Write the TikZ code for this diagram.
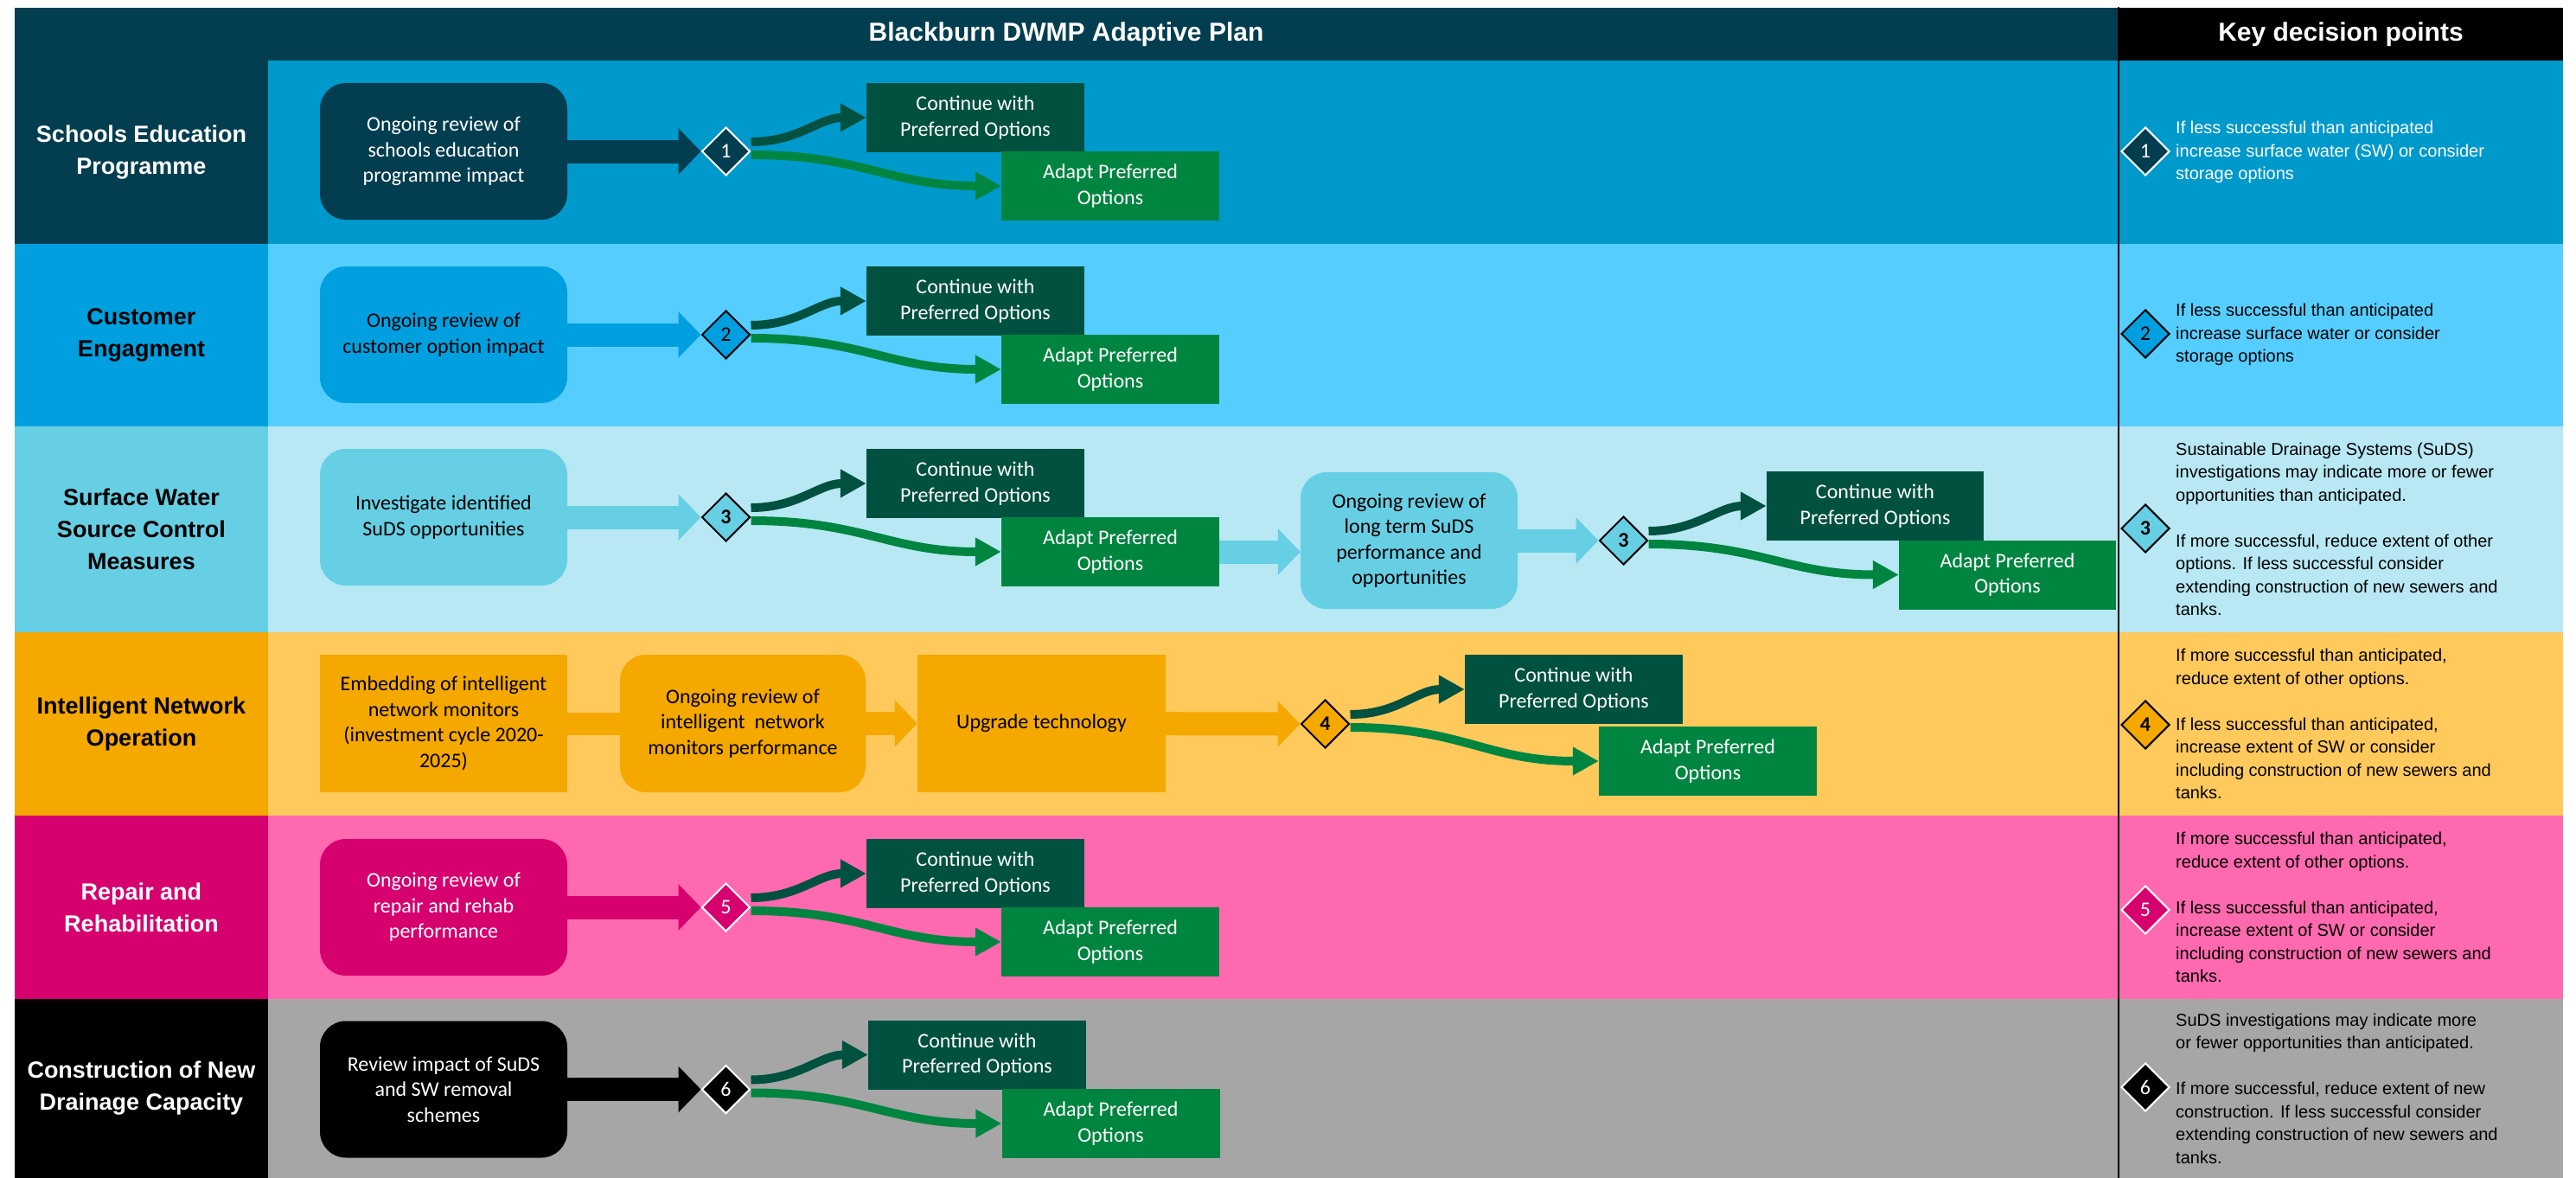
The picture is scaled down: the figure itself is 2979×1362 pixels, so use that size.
\documentclass[tikz,border=0pt]{standalone}
\usepackage{fontspec}
\setmainfont{Liberation Sans}
\newfontfamily\calfont{Carlito}
\usetikzlibrary{shapes.geometric,arrows.meta}
\definecolor{hdrteal}{HTML}{023E50}
\definecolor{bgone}{HTML}{0099CC}
\definecolor{bluetwo}{HTML}{00A0E0}
\definecolor{bgtwo}{HTML}{55CEFF}
\definecolor{bluethree}{HTML}{66CFE3}
\definecolor{bgthree}{HTML}{B7E8F3}
\definecolor{ambr}{HTML}{F5A800}
\definecolor{bgfour}{HTML}{FFC95C}
\definecolor{magen}{HTML}{D6006E}
\definecolor{bgfive}{HTML}{FF69AF}
\definecolor{bgsix}{HTML}{A6A6A6}
\definecolor{contgreen}{HTML}{00513F}
\definecolor{adaptgreen}{HTML}{008540}
\begin{document}
\begin{tikzpicture}[x=1pt,y=-1pt,
  hdrtxt/.style={text=white,font=\fontsize{30}{34}\selectfont\bfseries},
  lab/.style={minimum width=293pt,inner sep=0pt,align=center,font=\fontsize{27}{37}\selectfont\bfseries},
  revbox/.style={rounded corners=30pt,minimum width=286pt,minimum height=158pt,inner sep=2pt,align=center,font=\calfont\fontsize{24}{29.5}\selectfont},
  sqbox/.style={fill=ambr,minimum height=159pt,inner sep=2pt,align=center,font=\calfont\fontsize{24}{29.5}\selectfont},
  contbox/.style={fill=contgreen,text=white,minimum width=252pt,minimum height=80pt,inner sep=0pt,align=center,font=\calfont\fontsize{24}{29.5}\selectfont},
  adaptbox/.style={contbox,fill=adaptgreen},
  dec/.style={diamond,minimum width=56pt,minimum height=56pt,inner sep=0pt,line width=2pt,font=\calfont\fontsize{24}{24}\selectfont},
  blk/.style={line width=27pt,-{Triangle[width=52pt,length=26pt]}},
  upflow/.style={line width=10pt,contgreen,-{Triangle[width=31pt,length=30pt]}},
  downflow/.style={line width=10pt,adaptgreen,-{Triangle[width=31pt,length=30pt]}},
  keytxt/.style={anchor=west,align=left,inner sep=0pt,font=\fontsize{20}{26.5}\selectfont}]
\useasboundingbox (0,0) rectangle (2979,1362);

% header
\fill[hdrteal] (17,9) rectangle (2450,70);
\fill[black] (2450,9) rectangle (2964,70);
\node[hdrtxt] (title) at (1233,40) {Blackburn DWMP Adaptive Plan};
\node[hdrtxt] (keytitle) at (2707,40) {Key decision points};

% row backgrounds
\fill[bgone] (310,70) rectangle (2964,282);
\fill[bgtwo] (310,282) rectangle (2964,493);
\fill[bgthree] (310,493) rectangle (2964,731);
\fill[bgfour] (310,731) rectangle (2964,943);
\fill[bgfive] (310,943) rectangle (2964,1155);
\fill[bgsix] (310,1155) rectangle (2964,1362);

% row labels
\node[lab,fill=hdrteal,text=white,minimum height=212pt] (lab1) at (163.5,176) {Schools Education\\Programme};
\node[lab,fill=bluetwo,minimum height=211pt] (lab2) at (163.5,387.5) {Customer\\Engagment};
\node[lab,fill=bluethree,minimum height=238pt] (lab3) at (163.5,612) {Surface Water\\Source Control\\Measures};
\node[lab,fill=ambr,minimum height=212pt] (lab4) at (163.5,837) {Intelligent Network\\Operation};
\node[lab,fill=magen,text=white,minimum height=212pt] (lab5) at (163.5,1049) {Repair and\\Rehabilitation};
\node[lab,fill=black,text=white,minimum height=207pt] (lab6) at (163.5,1258.5) {Construction of New\\Drainage Capacity};

% key column line
\draw[line width=2.5pt] (2450,8) -- (2450,1362);

% Schools education
\node[revbox,fill=hdrteal,text=white] (rev1) at (513,175) {Ongoing review of\\schools education\\programme impact};
\node[dec,fill=hdrteal,draw=white,text=white] (dia1) at (839.5,175) {1};
\node[contbox] (cont1) at (1128,136) {Continue with\\Preferred Options};
\node[adaptbox] (adapt1) at (1284,215) {Adapt Preferred\\Options};
\draw[blk,hdrteal] (rev1) -- (dia1);
\draw[upflow] ([yshift=11pt]dia1.east) .. controls +(55,0) and +(-55,0) .. (cont1.west);
\draw[downflow] ([yshift=-4pt]dia1.east) .. controls +(130,0) and +(-130,0) .. (adapt1.west);

% Customer engagement
\node[revbox,fill=bluetwo] (rev2) at (513,387) {Ongoing review of\\customer option impact};
\node[dec,fill=bluetwo,draw=black] (dia2) at (839.5,387) {2};
\node[contbox] (cont2) at (1128,348) {Continue with\\Preferred Options};
\node[adaptbox] (adapt2) at (1284,427) {Adapt Preferred\\Options};
\draw[blk,bluetwo] (rev2) -- (dia2);
\draw[upflow] ([yshift=11pt]dia2.east) .. controls +(55,0) and +(-55,0) .. (cont2.west);
\draw[downflow] ([yshift=-4pt]dia2.east) .. controls +(130,0) and +(-130,0) .. (adapt2.west);

% Surface water, first step
\node[revbox,fill=bluethree] (rev3) at (513,598) {Investigate identified\\SuDS opportunities};
\node[dec,fill=bluethree,draw=black,font=\calfont\fontsize{24}{24}\selectfont\bfseries] (dia3a) at (839.5,598) {3};
\node[contbox] (cont3a) at (1128,559) {Continue with\\Preferred Options};
\node[adaptbox] (adapt3a) at (1284,638) {Adapt Preferred\\Options};
\draw[blk,bluethree] (rev3) -- (dia3a);
\draw[upflow] ([yshift=11pt]dia3a.east) .. controls +(55,0) and +(-55,0) .. (cont3a.west);
\draw[downflow] ([yshift=-4pt]dia3a.east) .. controls +(130,0) and +(-130,0) .. (adapt3a.west);
% Surface water, long term review
\node[revbox,fill=bluethree,minimum width=251pt] (rev3b) at (1629.5,625) {Ongoing review of\\long term SuDS\\performance and\\opportunities};
\node[dec,fill=bluethree,draw=black,font=\calfont\fontsize{24}{24}\selectfont\bfseries] (dia3b) at (1877.5,625) {3};
\node[contbox,minimum width=251pt] (cont3b) at (2168.5,585) {Continue with\\Preferred Options};
\node[adaptbox,minimum width=251pt] (adapt3b) at (2321.5,664.5) {Adapt Preferred\\Options};
\draw[blk,bluethree] (adapt3a.east) -- (adapt3a.east -| rev3b.west);
\draw[blk,bluethree] (rev3b) -- (dia3b);
\draw[upflow] ([yshift=11pt]dia3b.east) .. controls +(55,0) and +(-55,0) .. (cont3b.west);
\draw[downflow] ([yshift=-4pt]dia3b.east) .. controls +(130,0) and +(-130,0) .. (adapt3b.west);

% Intelligent network
\node[sqbox,minimum width=286pt] (emb4) at (513,836.5) {Embedding of intelligent\\network monitors\\(investment cycle 2020-\\2025)};
\node[revbox,fill=ambr,minimum width=284pt,minimum height=159pt] (rev4) at (859,836.5) {Ongoing review of\\intelligent\ \ network\\monitors performance};
\node[sqbox,minimum width=287pt] (upg4) at (1204.5,836.5) {Upgrade technology};
\node[dec,fill=ambr,draw=black,font=\calfont\fontsize{24}{24}\selectfont\bfseries] (dia4) at (1532.5,837) {4};
\node[contbox] (cont4) at (1820,797) {Continue with\\Preferred Options};
\node[adaptbox] (adapt4) at (1975,880) {Adapt Preferred\\Options};
\draw[line width=26pt,ambr] (emb4) -- (rev4);
\draw[blk,ambr] (rev4) -- (upg4);
\draw[blk,ambr] (upg4) -- (dia4);
\draw[upflow] ([yshift=11pt]dia4.east) .. controls +(55,0) and +(-55,0) .. (cont4.west);
\draw[downflow] ([yshift=-4pt]dia4.east) .. controls +(130,0) and +(-130,0) .. (adapt4.west);

% Repair and rehab
\node[revbox,fill=magen,text=white] (rev5) at (513,1049) {Ongoing review of\\repair and rehab\\performance};
\node[dec,fill=magen,draw=white,text=white] (dia5) at (839.5,1049) {5};
\node[contbox] (cont5) at (1128,1010) {Continue with\\Preferred Options};
\node[adaptbox] (adapt5) at (1284,1089) {Adapt Preferred\\Options};
\draw[blk,magen] (rev5) -- (dia5);
\draw[upflow] ([yshift=11pt]dia5.east) .. controls +(55,0) and +(-55,0) .. (cont5.west);
\draw[downflow] ([yshift=-4pt]dia5.east) .. controls +(130,0) and +(-130,0) .. (adapt5.west);

% New drainage capacity
\node[revbox,fill=black,text=white] (rev6) at (513,1259.5) {Review impact of SuDS\\and SW removal\\schemes};
\node[dec,fill=black,draw=white,text=white] (dia6) at (839.5,1259.5) {6};
\node[contbox] (cont6) at (1130,1219.5) {Continue with\\Preferred Options};
\node[adaptbox] (adapt6) at (1284.5,1299) {Adapt Preferred\\Options};
\draw[blk,black] (rev6) -- (dia6);
\draw[upflow] ([yshift=11pt]dia6.east) .. controls +(55,0) and +(-55,0) .. (cont6.west);
\draw[downflow] ([yshift=-4pt]dia6.east) .. controls +(130,0) and +(-130,0) .. (adapt6.west);

% Key decision points
\node[dec,fill=hdrteal,draw=white,text=white] (kdia1) at (2481,175) {1};
\node[keytxt,text=white] (key1) at (2516,176) {If less successful than anticipated\\increase surface water (SW) or consider\\storage options};
\node[dec,fill=bluetwo,draw=black] (kdia2) at (2481,386) {2};
\node[keytxt] (key2) at (2516,387) {If less successful than anticipated\\increase surface water or consider\\storage options};
\node[dec,fill=bluethree,draw=black,font=\calfont\fontsize{24}{24}\selectfont\bfseries] (kdia3) at (2481,611) {3};
\node[keytxt] (key3) at (2516,612) {Sustainable Drainage Systems (SuDS)\\investigations may indicate more or fewer\\opportunities than anticipated.\\[26.5pt]If more successful, reduce extent of other\\options. If less successful consider\\extending construction of new sewers and\\tanks.};
\node[dec,fill=ambr,draw=black,font=\calfont\fontsize{24}{24}\selectfont\bfseries] (kdia4) at (2481,838) {4};
\node[keytxt] (key4) at (2516,837) {If more successful than anticipated,\\reduce extent of other options.\\[26.5pt]If less successful than anticipated,\\increase extent of SW or consider\\including construction of new sewers and\\tanks.};
\node[dec,fill=magen,draw=white,text=white] (kdia5) at (2481,1052) {5};
\node[keytxt] (key5) at (2516,1049) {If more successful than anticipated,\\reduce extent of other options.\\[26.5pt]If less successful than anticipated,\\increase extent of SW or consider\\including construction of new sewers and\\tanks.};
\node[dec,fill=black,draw=white,text=white] (kdia6) at (2481,1257) {6};
\node[keytxt] (key6) at (2516,1258.5) {SuDS investigations may indicate more\\or fewer opportunities than anticipated.\\[26.5pt]If more successful, reduce extent of new\\construction. If less successful consider\\extending construction of new sewers and\\tanks.};
\end{tikzpicture}
\end{document}
